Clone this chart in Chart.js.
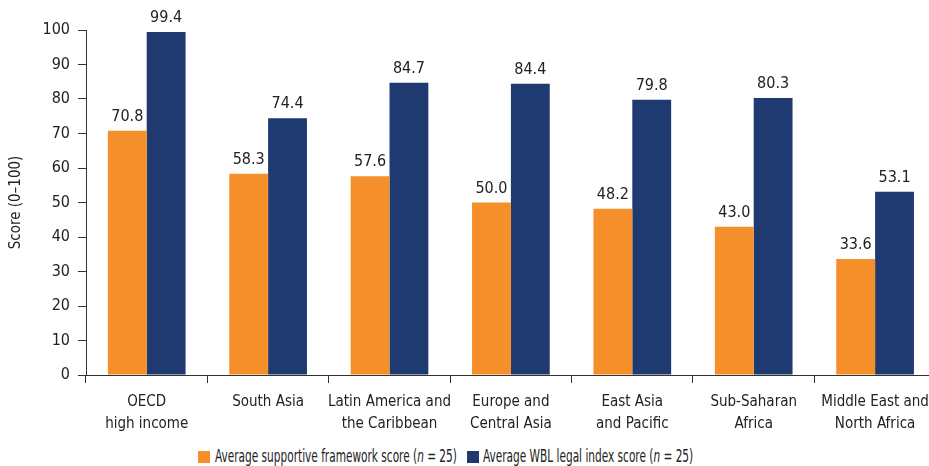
<!DOCTYPE html>
<html>
<head>
<meta charset="utf-8">
<script src="https://cdn.jsdelivr.net/npm/chart.js@4/dist/chart.umd.min.js"></script>
<style>
  html, body { margin: 0; padding: 0; background: #fff; overflow: hidden; }
  body { width: 929px; height: 466px; position: relative; font-family: "Liberation Sans Narrow", "DejaVu Sans Condensed", sans-serif; }
  #wrap { position: absolute; left: 0; top: 0; width: 937px; height: 440px; }
  .caja { position: absolute; top: 451px; width: 12px; height: 12px; }
  .texto { position: absolute; top: 446px; font-size: 17px; line-height: 20px; color: #222; white-space: nowrap; transform: scaleX(0.69); transform-origin: left center; }
</style>
</head>
<body>
<div id="wrap"><canvas id="myChart" width="937" height="440"></canvas></div>
<div id="leyenda">
  <span class="caja" style="left:198px; background:#F58F2A"></span>
  <span class="texto" style="left:215px">Average supportive framework score (<i>n</i> = 25)</span>
  <span class="caja" style="left:467px; background:#1E3A70"></span>
  <span class="texto" style="left:483px">Average WBL legal index score (<i>n</i> = 25)</span>
</div>
<script>
const categorias = [
    ['OECD', 'high income'],
    'South Asia',
    ['Latin America and', 'the Caribbean'],
    ['Europe and', 'Central Asia'],
    ['East Asia', 'and Pacific'],
    ['Sub-Saharan', 'Africa'],
    ['Middle East and', 'North Africa']
];
const marcoApoyo = [70.8, 58.3, 57.6, 50.0, 48.2, 43.0, 33.6];
const indiceLegal = [99.4, 74.4, 84.7, 84.4, 79.8, 80.3, 53.1];
const ticksY = [0, 10, 20, 30, 40, 50, 60, 70, 80, 90, 100];

const fuente = '"Liberation Sans Narrow", "DejaVu Sans Condensed", sans-serif';
Chart.defaults.font.family = fuente;
Chart.defaults.color = '#222';

// etiquetas de valor encima de cada barra
const etiquetasValor = {
    id: 'etiquetasValor',
    afterDatasetsDraw(chart) {
        const ctx = chart.ctx;
        ctx.save();
        ctx.font = '16px ' + fuente;
        ctx.fillStyle = '#222';
        ctx.textAlign = 'center';
        ctx.textBaseline = 'bottom';
        chart.data.datasets.forEach((ds, i) => {
            chart.getDatasetMeta(i).data.forEach((bar, j) => {
                ctx.fillText(ds.data[j].toFixed(1), bar.x, bar.y - 6);
            });
        });
        ctx.restore();
    }
};

const ctx = document.getElementById('myChart').getContext('2d');
const myChart = new Chart(ctx, {
    type: 'bar',
    data: {
        labels: categorias,
        datasets: [{
            label: 'Average supportive framework score (n = 25)',
            data: marcoApoyo,
            backgroundColor: '#F58F2A',
            barPercentage: 1,
            categoryPercentage: 0.64
        }, {
            label: 'Average WBL legal index score (n = 25)',
            data: indiceLegal,
            backgroundColor: '#1E3A70',
            barPercentage: 1,
            categoryPercentage: 0.64
        }]
    },
    options: {
        responsive: false,
        animation: false,
        layout: { padding: { top: 30, right: 1 } },
        plugins: {
            legend: { display: false },
            tooltip: { enabled: false }
        },
        scales: {
            x: {
                grid: { drawOnChartArea: false, tickLength: 8, color: '#333', offset: true },
                border: { color: '#333', width: 1 },
                ticks: { font: { size: 15, lineHeight: 1.45 }, color: '#222', maxRotation: 0, autoSkip: false, padding: 8 },
                afterFit(s) { s.height = 65; }
            },
            y: {
                min: 0,
                max: 100,
                afterBuildTicks(s) { s.ticks = ticksY.map(v => ({ value: v })); },
                grid: { drawOnChartArea: false, tickLength: 8, color: '#333' },
                border: { color: '#333', width: 1 },
                ticks: { font: { size: 16 }, color: '#222', padding: 8 },
                title: { display: true, text: 'Score (0–100)', font: { size: 15 }, color: '#222', padding: { top: 7, bottom: 0 } },
                afterFit(s) { s.width = 86; }
            }
        }
    },
    plugins: [etiquetasValor]
});
</script>
</body>
</html>
